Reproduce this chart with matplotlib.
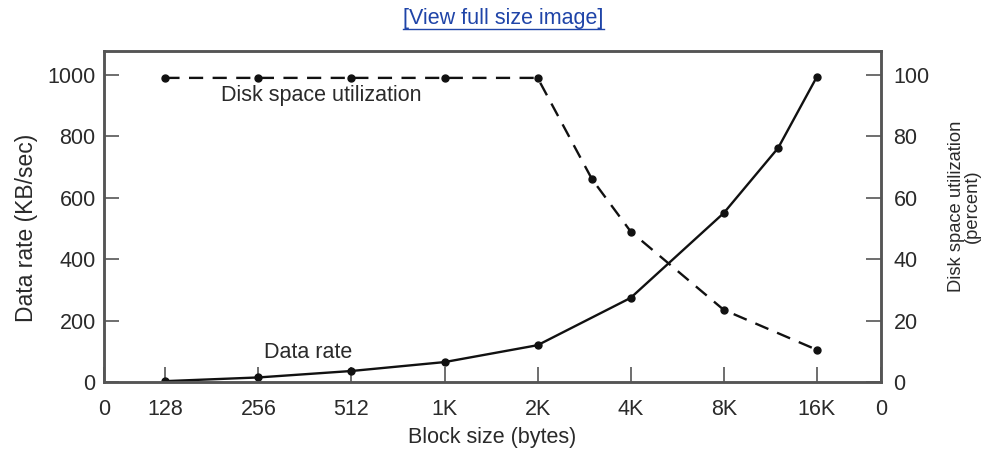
import matplotlib.pyplot as plt

plt.rcParams['font.family'] = ['Liberation Sans', 'DejaVu Sans']

# Block sizes (bytes) and tick labels
tick_sizes = [128, 256, 512, 1024, 2048, 4096, 8192, 16384]
tick_labels = ['128', '256', '512', '1K', '2K', '4K', '8K', '16K']

# Disk space utilization (percent)
disk_sizes = [128, 256, 512, 1024, 2048, 3072, 4096, 8192, 16384]
disk_util = [99, 99, 99, 99, 99, 66, 49, 23.5, 10.5]

# Data rate (KB/sec)
rate_sizes = [128, 256, 512, 1024, 2048, 4096, 8192, 12288, 16384]
data_rate = [3, 15, 36, 65, 120, 274, 550, 762, 993]

fs = 15.5
txt = '#2a2a2a'

fig = plt.figure(figsize=(9.93, 4.5), dpi=100)
ax = fig.add_axes([0.1047, 0.151, 0.7825, 0.736])
ax2 = ax.twinx()

ink = '#111111'
spine_col = '#555555'

ax.plot(rate_sizes, data_rate, color=ink, lw=1.7, marker='o', ms=5)
ax2.plot(disk_sizes, disk_util, color=ink, lw=1.7, marker='o', ms=5,
         dashes=(6, 4))

ax.set_xscale('log', base=2)
xlo, xhi = 2 ** 6.34, 2 ** 14.69
ax.set_xlim(xlo, xhi)
ax.set_xticks([xlo] + tick_sizes + [xhi])
ax.set_xticklabels(['0'] + tick_labels + ['0'])
ax.minorticks_off()
ax.set_ylim(0, 1078)
ax.set_yticks([0, 200, 400, 600, 800, 1000])
ax2.set_ylim(0, 107.8)
ax2.set_yticks([0, 20, 40, 60, 80, 100])

for a in (ax, ax2):
    a.tick_params(direction='in', length=11, width=1.2, color=spine_col,
                  labelsize=fs, labelcolor=txt, pad=6)
    for s in a.spines.values():
        s.set_color(spine_col)
        s.set_linewidth(1.8)
ax.tick_params(axis='x', pad=12)
ax2.tick_params(axis='y', pad=9)

ax.set_xlabel('Block size (bytes)', fontsize=fs, color=txt, labelpad=5)
ax.set_ylabel('Data rate (KB/sec)', fontsize=16.5, color=txt, labelpad=7)
ax.yaxis.label.set_y(0.465)
ax2.set_ylabel('Disk space utilization\n(percent)', fontsize=13.2,
               color=txt, labelpad=13, linespacing=0.95)
ax2.yaxis.label.set_y(0.53)

ax.text(0.263, 0.09, 'Data rate', transform=ax.transAxes, ha='center',
        va='center', fontsize=fs, color=txt)
ax.text(0.28, 0.865, 'Disk space utilization', transform=ax.transAxes,
        ha='center', va='center', fontsize=fs, color=txt)

link = fig.text(0.507, 0.958, '[View full size image]', ha='center',
                va='center', fontsize=fs, color='#1f44a8')
fig.canvas.draw()
bb = link.get_window_extent().transformed(fig.transFigure.inverted())
fig.add_artist(plt.Line2D([bb.x0, bb.x1], [bb.y0 + 0.002, bb.y0 + 0.002],
                          transform=fig.transFigure, color='#1f44a8', lw=1))

fig.savefig('out.png', dpi=100)
